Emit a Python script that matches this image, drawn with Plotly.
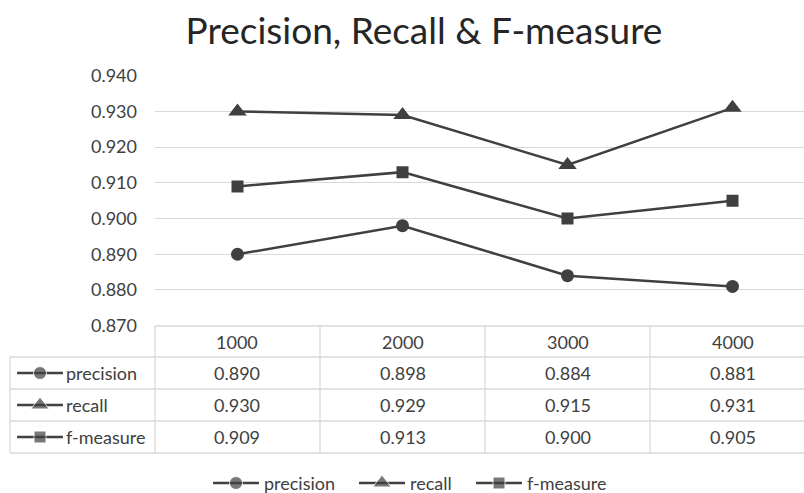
import plotly.graph_objects as go

W, H = 804, 493
categories = ["1000", "2000", "3000", "4000"]
series_names = ["precision", "recall", "f-measure"]
precision = [0.890, 0.898, 0.884, 0.881]
recall = [0.930, 0.929, 0.915, 0.931]
fmeasure = [0.909, 0.913, 0.900, 0.905]
series_values = [precision, recall, fmeasure]
symbols = ["circle", "triangle-up", "square"]
marker_sizes = [13, 16, 12]
y_ticks = [0.870, 0.880, 0.890, 0.900, 0.910, 0.920, 0.930, 0.940]

DARK = "#404040"
GRID = "#d9d9d9"
FONT = "Lato"
FS = 18

def px(x):
    return x / W

def py(y):
    return 1 - y / H

# pixel geometry of the plot area
X0, XEND = 155, 804
CAT_W = 165
Y_TOP, Y_BOT = 75.7, 325.7

fig = go.Figure()
xs = list(range(len(categories)))
for name, vals, sym, ms in zip(series_names, series_values, symbols, marker_sizes):
    fig.add_trace(go.Scatter(
        x=xs, y=vals, name=name, mode="lines+markers", showlegend=False,
        line=dict(color=DARK, width=2.5),
        marker=dict(symbol=sym, size=ms, color=DARK),
        xaxis="x", yaxis="y",
    ))

# table geometry
row_lines = [326, 357, 389, 421, 453]
row_centers = [(row_lines[i] + row_lines[i + 1]) / 2 for i in range(4)]
col_lines = [X0 + CAT_W * i for i in range(5)]
col_centers = [X0 + CAT_W * (i + 0.5) for i in range(4)]
TL = 10

shapes = []
line_style = dict(color=GRID, width=1.3)
shapes.append(dict(type="line", xref="paper", yref="paper", x0=px(X0), x1=1, y0=py(row_lines[0]), y1=py(row_lines[0]), line=line_style))
for yy in row_lines[1:]:
    shapes.append(dict(type="line", xref="paper", yref="paper", x0=px(TL), x1=1, y0=py(yy), y1=py(yy), line=line_style))
shapes.append(dict(type="line", xref="paper", yref="paper", x0=px(TL), x1=px(TL), y0=py(row_lines[1]), y1=py(row_lines[-1]), line=line_style))
for xx in col_lines:
    if xx <= W:
        shapes.append(dict(type="line", xref="paper", yref="paper", x0=px(xx), x1=px(xx), y0=py(row_lines[0]), y1=py(row_lines[-1]), line=line_style))

annotations = []
def add_text(t, x, y, anchor="center"):
    annotations.append(dict(text=t, x=px(x), y=py(y), xref="paper", yref="paper",
                            showarrow=False, xanchor=anchor, yanchor="middle",
                            font=dict(family=FONT, size=FS, color=DARK)))

def add_key(x_left, y, r):
    fig.add_trace(go.Scatter(
        x=[x_left, x_left + 23, x_left + 46], y=[y, y, y], mode="lines+markers",
        showlegend=False, hoverinfo="skip",
        line=dict(color=DARK, width=2.5),
        marker=dict(symbol=symbols[r], size=[0, marker_sizes[r], 0], color=DARK),
        xaxis="x2", yaxis="y2",
    ))

for c, xc in zip(categories, col_centers):
    add_text(c, xc, row_centers[0])
for r, (name, vals) in enumerate(zip(series_names, series_values)):
    yc = row_centers[r + 1]
    add_text(name, 64, yc, "left")
    for v, xc in zip(vals, col_centers):
        add_text(f"{v:.3f}", xc, yc)
    add_key(17, yc, r)

# bottom legend
LEG_Y = 483
legend_x = [213, 359, 476]
for r, name in enumerate(series_names):
    add_key(legend_x[r], LEG_Y, r)
    add_text(name, legend_x[r] + 49, LEG_Y, "left")

fig.update_layout(
    width=W, height=H,
    margin=dict(l=0, r=0, t=0, b=0, pad=0, autoexpand=False),
    paper_bgcolor="white", plot_bgcolor="rgba(0,0,0,0)",
    title=dict(text="Precision, Recall & F-measure", x=424 / W, xanchor="center",
               y=py(31), yanchor="middle", automargin=False,
               font=dict(family=FONT, size=37, color="#262626")),
    xaxis=dict(domain=[px(X0), 1], range=[-0.5, -0.5 + (XEND - X0) / CAT_W],
               showticklabels=False, showgrid=False, zeroline=False, showline=False,
               anchor="y", automargin=False),
    yaxis=dict(domain=[py(Y_BOT), py(Y_TOP)], range=[0.870, 0.940],
               tickvals=y_ticks, tickformat=".3f", showgrid=True, gridcolor=GRID, gridwidth=1.3,
               zeroline=False, showline=False, ticks="", ticklabelstandoff=17,
               tickfont=dict(family=FONT, size=FS, color=DARK), anchor="x", automargin=False),
    xaxis2=dict(domain=[0, 1], range=[0, W], visible=False, anchor="y2", automargin=False),
    yaxis2=dict(domain=[0, 1], range=[H, 0], visible=False, anchor="x2", automargin=False),
    showlegend=False,
    shapes=shapes,
    annotations=annotations,
)

fig.write_html("out.html")
